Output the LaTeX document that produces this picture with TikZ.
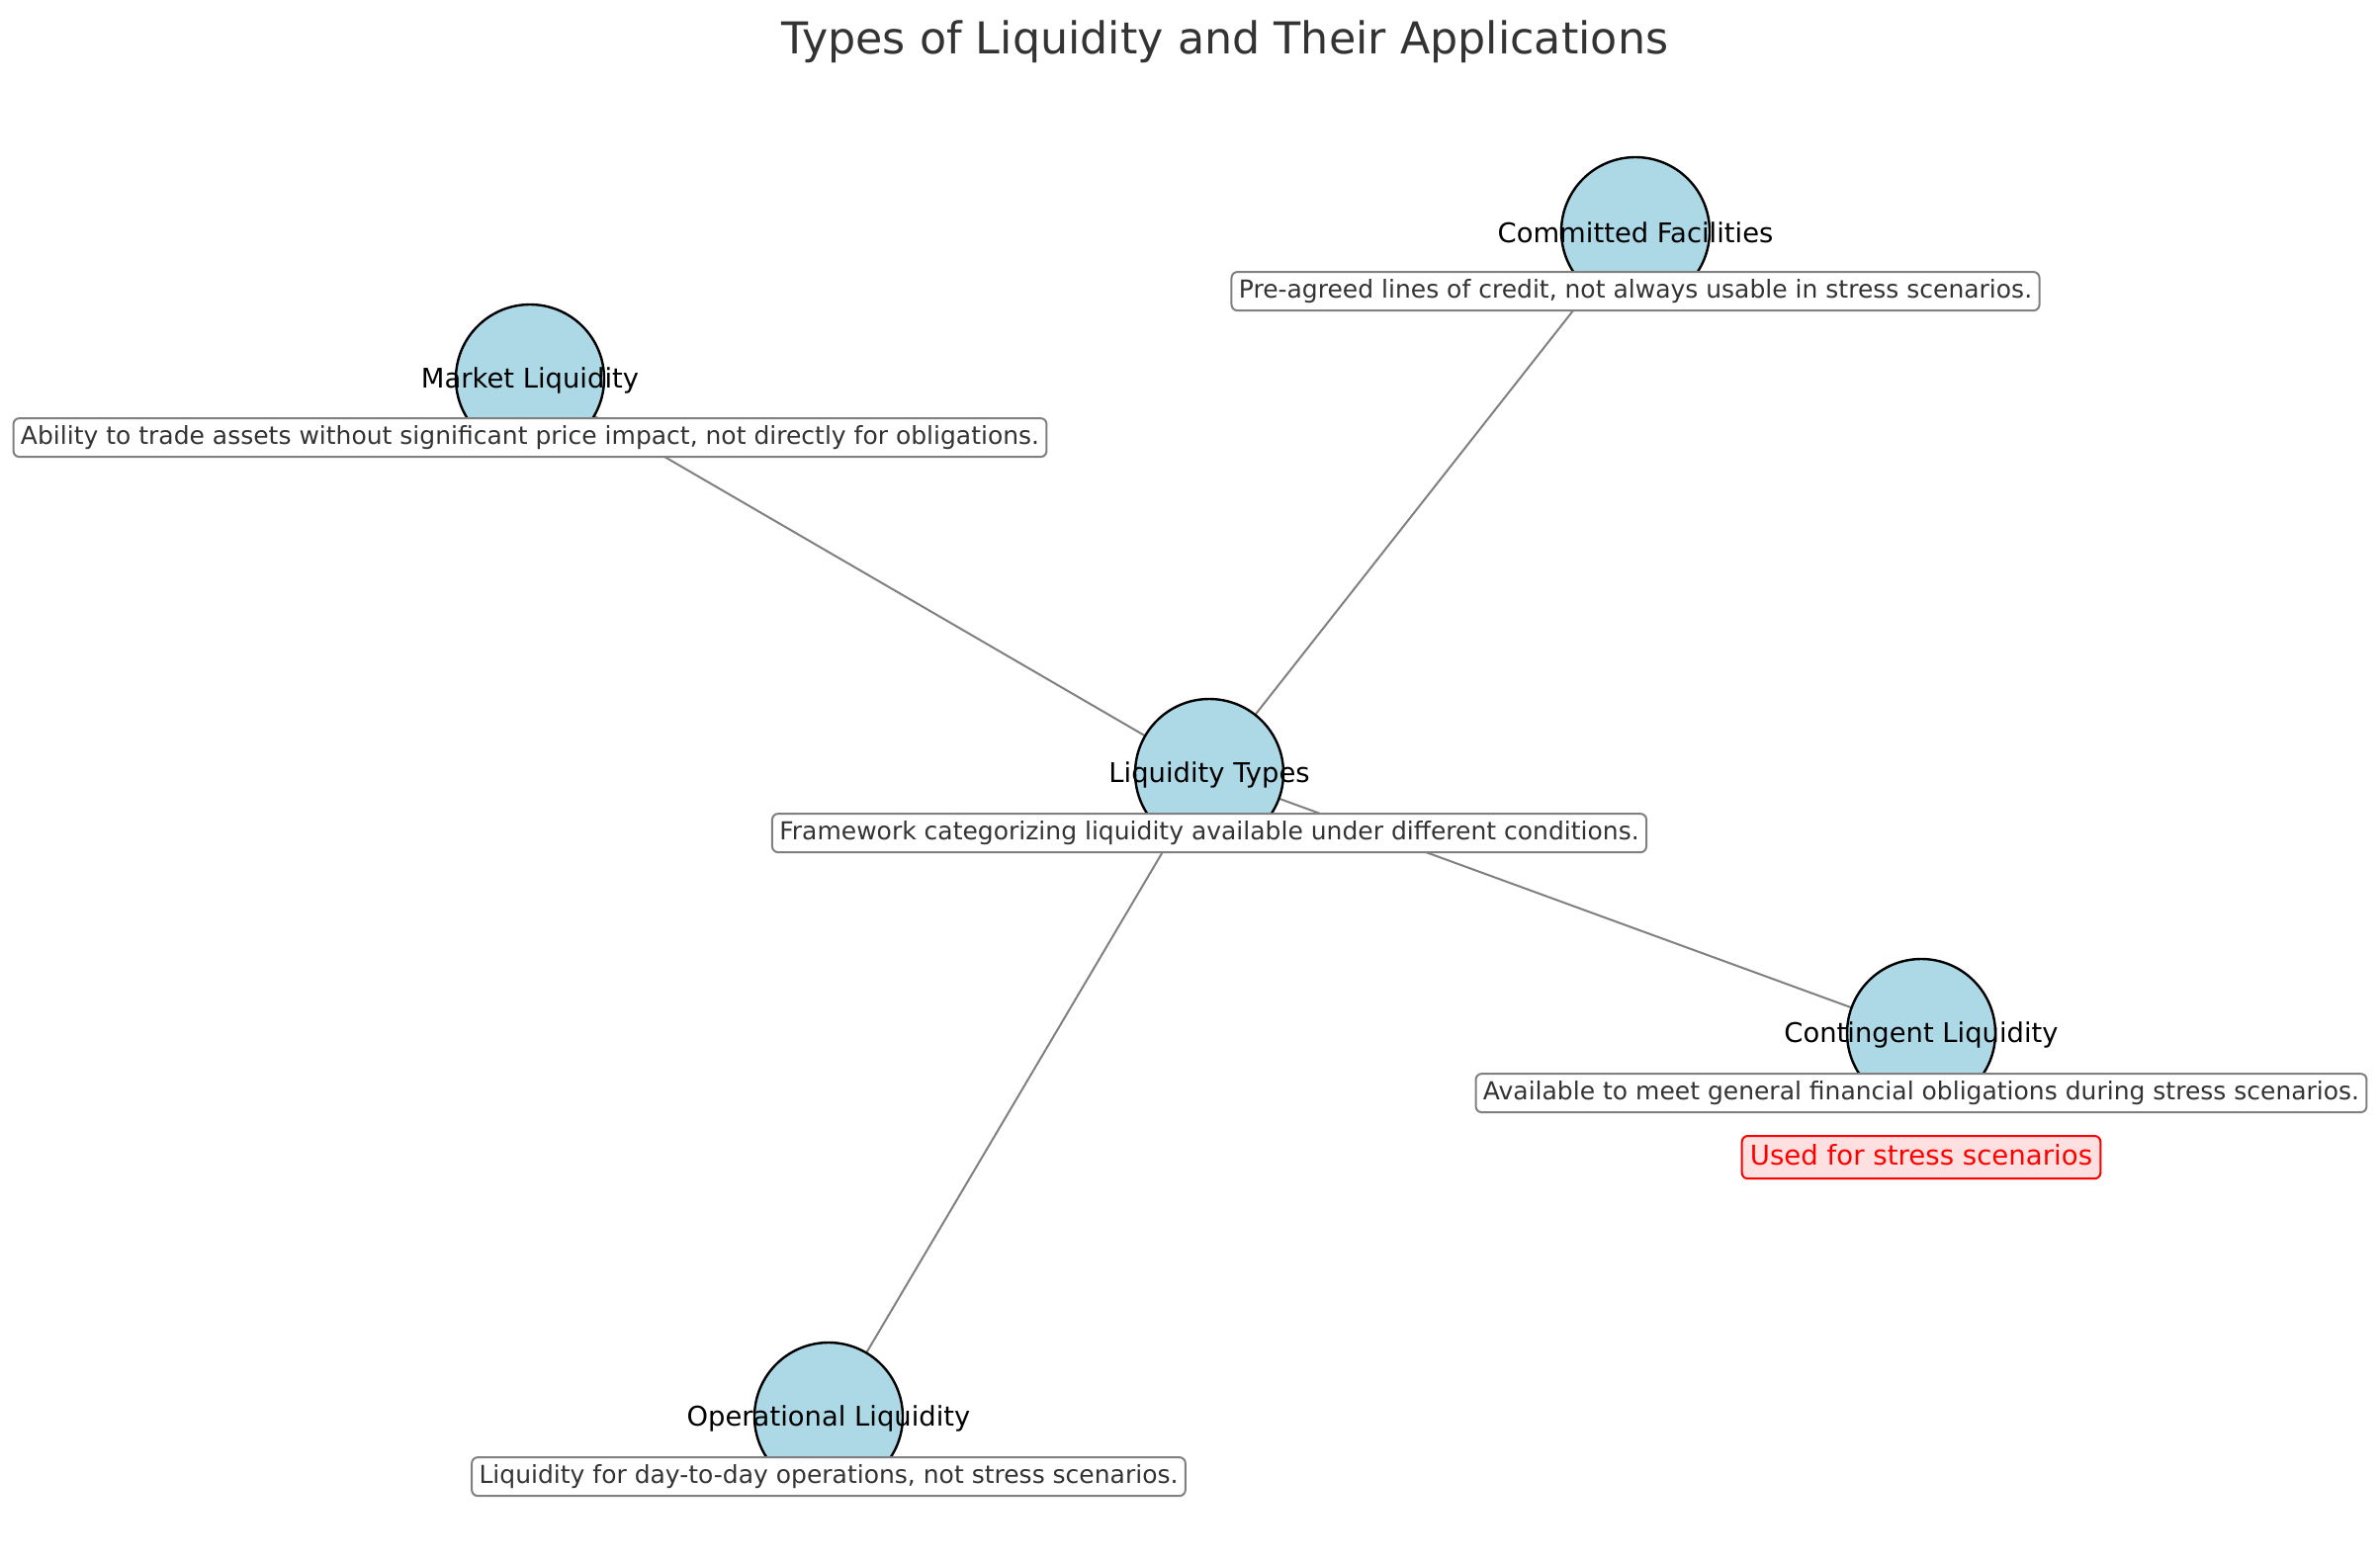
\documentclass[tikz,border=0pt]{standalone}
\usepackage{fontspec}
\setmainfont{DejaVu Sans}
\usetikzlibrary{backgrounds}
\definecolor{hubblue}{HTML}{ADD8E6}
\definecolor{txtgray}{HTML}{333333}
\definecolor{flagpink}{HTML}{FFE0E0}

\begin{document}
\begin{tikzpicture}[x=0.5pt,y=-0.5pt,
	kind/.style={circle,draw=black,line width=1.2pt,fill=hubblue,minimum size=75pt,inner sep=0pt},
	kindname/.style={font=\fontsize{13.7}{16}\selectfont,text=black,inner sep=0pt,yshift=-0.8pt},
	note/.style={draw=gray,line width=1pt,rounded corners=3pt,fill=white,text=txtgray,yshift=-0.8pt,
		font=\fontsize{12.5}{15}\selectfont,inner xsep=3.7pt,inner ysep=3.7pt,text height=9.4pt,text depth=2.7pt},
	flag/.style={draw=red,line width=1pt,rounded corners=3pt,fill=flagpink,text=red,yshift=-0.8pt,
		font=\fontsize{13.8}{16}\selectfont,inner xsep=4.1pt,inner ysep=4.1pt,text height=10.4pt,text depth=3pt},
	link/.style={draw=gray,line width=1pt}]
	\useasboundingbox (0,0) rectangle (2407,1580);
	\node[text=txtgray,font=\fontsize{22.2}{26}\selectfont] (title) at (1239,42) {Types of Liquidity and Their Applications};

	\node[kind] (types) at (1223,782) {};
	\node[kindname] (types-name) at (types) {Liquidity Types};
	\node[note] (types-note) at (1223,841) {Framework categorizing liquidity available under different conditions.};

	\node[kind] (committed) at (1654,234) {};
	\node[kindname] (committed-name) at (committed) {Committed Facilities};
	\node[note] (committed-note) at (1654,293) {Pre-agreed lines of credit, not always usable in stress scenarios.};

	\node[kind] (market) at (536,383) {};
	\node[kindname] (market-name) at (market) {Market Liquidity};
	\node[note] (market-note) at (536,441) {Ability to trade assets without significant price impact, not directly for obligations.};

	\node[kind] (contingent) at (1943,1045) {};
	\node[kindname] (contingent-name) at (contingent) {Contingent Liquidity};
	\node[note] (contingent-note) at (1943,1104) {Available to meet general financial obligations during stress scenarios.};
	\node[flag] (contingent-flag) at (1943,1169) {Used for stress scenarios};

	\node[kind] (operational) at (838,1433) {};
	\node[kindname] (operational-name) at (operational) {Operational Liquidity};
	\node[note] (operational-note) at (838,1492) {Liquidity for day-to-day operations, not stress scenarios.};

	\begin{scope}[on background layer]
		\foreach \t in {committed,market,contingent,operational}
			\draw[link] (types.center) -- (\t.center);
	\end{scope}
\end{tikzpicture}
\end{document}
